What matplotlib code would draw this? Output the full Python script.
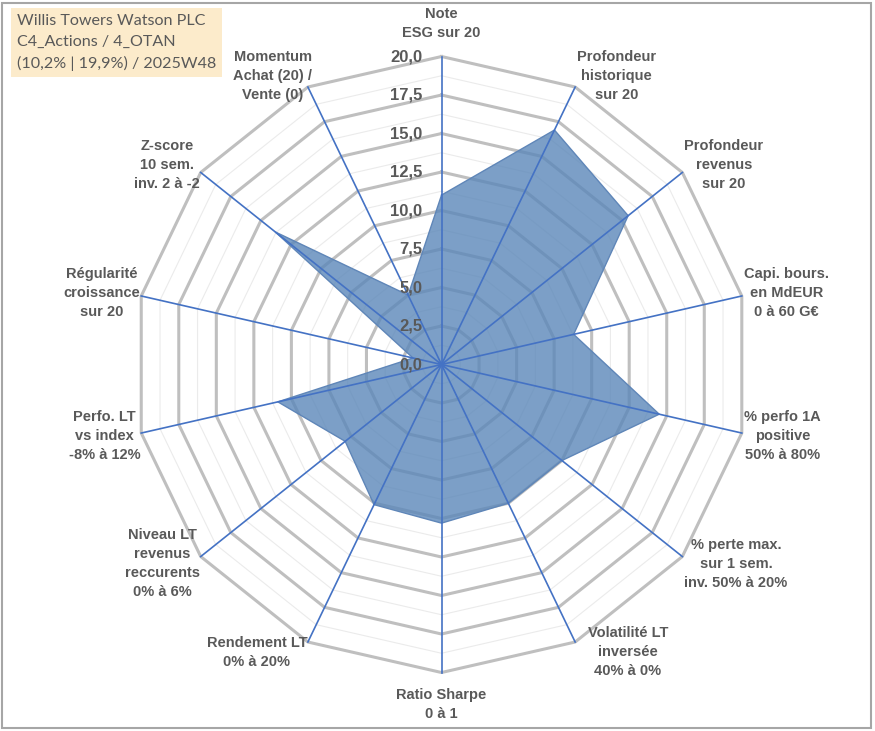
import matplotlib
matplotlib.use('Agg')
import matplotlib.pyplot as plt
import numpy as np
from matplotlib.patches import Rectangle

# Data
categories = [
    'Note\nESG sur 20',
    'Profondeur\nhistorique\nsur 20',
    'Profondeur\nrevenus\nsur 20',
    'Capi. bours.\nen MdEUR\n0 à 60 G€',
    '% perfo 1A\npositive\n50% à 80%',
    '% perte max.\nsur 1 sem.\ninv. 50% à 20%',
    'Volatilité LT\ninversée\n40% à 0%',
    'Ratio Sharpe\n0 à 1',
    'Rendement LT\n0% à 20%',
    'Niveau LT\nrevenus\nreccurents\n0% à 6%',
    'Perfo. LT\nvs index\n-8% à 12%',
    'Régularité\ncroissance\nsur 20',
    'Z-score\n10 sem.\ninv. 2 à -2',
    'Momentum\nAchat (20) /\nVente (0)',
]
scores = [11.0, 16.9, 15.5, 8.8, 14.5, 10.0, 10.0, 10.3, 10.1, 8.0, 10.9, 1.9, 13.8, 5.0]
major_ticks = [0.0, 2.5, 5.0, 7.5, 10.0, 12.5, 15.0, 17.5, 20.0]
minor_ticks = [1.25, 3.75, 6.25, 8.75, 11.25, 13.75, 16.25, 18.75]
title_lines = ['Willis Towers Watson PLC', 'C4_Actions / 4_OTAN', '(10,2% | 19,9%) / 2025W48']

text_gray = '#595959'
spoke_blue = '#4472C4'

fig = plt.figure(figsize=(8.75, 7.31), dpi=100)
ax = fig.add_axes([0.1526, 0.080, 0.704, 0.8427], projection='polar')
ax.set_theta_zero_location('N')
ax.set_theta_direction(-1)
ax.set_ylim(0, 20)
ax.grid(False)
ax.set_xticks([])
ax.set_yticks([])
ax.spines['polar'].set_visible(False)

n = len(categories)
angles = np.arange(n) * 2 * np.pi / n
closed = np.append(angles, angles[0])

# polygon gridlines
for r in minor_ticks:
    ax.plot(closed, [r] * (n + 1), color='#EBEBEB', lw=0.8, zorder=1, clip_on=False)
for r in major_ticks[1:]:
    ax.plot(closed, [r] * (n + 1), color='#BFBFBF', lw=2.2, zorder=1, clip_on=False)

# filled series
vals = scores + scores[:1]
ax.fill(closed, vals, facecolor='#5B87B9', alpha=0.8, zorder=2)
ax.plot(closed, vals, color='#5F86B8', lw=1.0, zorder=2)

# spokes
for a in angles:
    ax.plot([a, a], [0, 20], color=spoke_blue, lw=1.2, zorder=3, clip_on=False)

# radial tick labels
for v in major_ticks:
    ax.annotate(f'{v:.1f}'.replace('.', ','), xy=(0, v), xytext=(-14, 0),
                textcoords='offset points', ha='right', va='center',
                fontsize=12, fontweight='bold', color=text_gray,
                family='Liberation Sans', annotation_clip=False, zorder=4)

# category labels
for a, lab in zip(angles, categories):
    deg = np.degrees(a)
    c = np.cos(a)
    if deg < 1:
        ha, off = 'center', (0, 24)
    elif abs(deg - 180) < 1:
        ha, off = 'center', (0, -23)
    elif deg < 180:
        ha, off = 'left', (1.5, 8.5 * c)
    else:
        ha, off = 'right', (-0.5, 8.5 * c)
    if abs(deg - 154.3) < 1:
        off = (9, -7)
    if abs(deg - 334.3) < 1:
        off = (3, 8)
    ax.annotate(lab, xy=(a, 20), xytext=off, textcoords='offset points',
                ha=ha, va='center', multialignment='center',
                fontsize=10.5, fontweight='bold', color=text_gray,
                family='Liberation Sans', linespacing=1.45,
                annotation_clip=False)

# title box
fig.text(17 / 875, 1 - 14 / 731, '\n'.join(title_lines), ha='left', va='top',
         fontsize=11.6, color=text_gray, family='Lato', linespacing=1.6,
         bbox=dict(boxstyle='square,pad=0.35', facecolor='#FCEBCB', edgecolor='none'))

# outer frame
fig.patches.append(Rectangle((2 / 875, 3 / 731), 869 / 875, 725 / 731,
                             transform=fig.transFigure, fill=False,
                             edgecolor='#A6A6A6', lw=1.5))

fig.savefig('out.png', dpi=100)
plt.close(fig)
